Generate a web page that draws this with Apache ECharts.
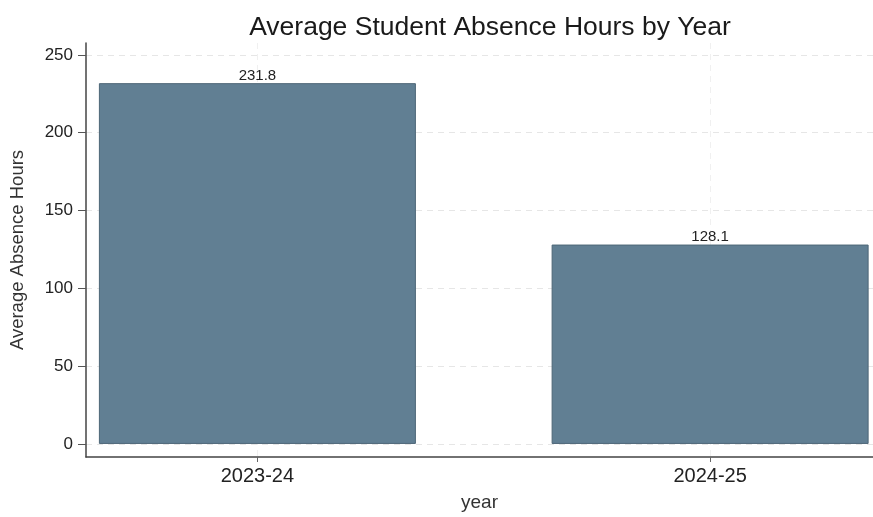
<!DOCTYPE html>
<html>
<head>
<meta charset="utf-8">
<script src="https://cdn.jsdelivr.net/npm/echarts@6/dist/echarts.min.js"></script>
<style>
html,body{margin:0;padding:0;background:#fff;}
#chart{width:873px;height:517px;}
</style>
</head>
<body>
<div id="chart"></div>
<script>
const categories = ["2023-24", "2024-25"];
const absenceHours = [231.8, 128.1];
const yTicks = [0, 50, 100, 150, 200, 250];
const xPositions = [1, 2];

const chart = echarts.init(document.getElementById('chart'), null, {renderer: 'canvas'});
const FONT = '"Liberation Sans", Arial, sans-serif';

const option = {
  backgroundColor: '#ffffff',
  animation: false,
  title: {
    text: 'Average Student Absence Hours by Year',
    left: 485, top: 9, textAlign: 'center',
    textStyle: {fontFamily: FONT, fontSize: 26.5, fontWeight: 'normal', color: '#1a1a1a'}
  },
  grid: {left: 86, right: 0, top: 43, bottom: 60, containLabel: false, outerBoundsMode: 'none'},
  xAxis: {
    type: 'value',
    min: 0.6214, max: 2.3598,
    name: 'year', nameLocation: 'middle', nameGap: 36,
    nameTextStyle: {fontFamily: FONT, fontSize: 19, color: '#333'},
    axisLine: {show: true, onZero: false, lineStyle: {color: '#444', width: 1.5}},
    axisTick: {show: true, length: 5, customValues: xPositions, lineStyle: {color: '#666'}},
    axisLabel: {
      customValues: xPositions, margin: 9,
      fontFamily: FONT, fontSize: 20, color: '#222',
      formatter: v => categories[Math.round(v) - 1] || ''
    },
    splitLine: {show: true, lineStyle: {color: '#f0f0f0', type: [6, 5], width: 1}}
  },
  yAxis: {
    type: 'value',
    min: -8.4, max: 257.6,
    name: 'Average Absence Hours', nameLocation: 'middle', nameGap: 59, nameRotate: 90,
    nameTextStyle: {fontFamily: FONT, fontSize: 18.5, color: '#333'},
    axisLine: {show: true, onZero: false, lineStyle: {color: '#444', width: 1.5}},
    axisTick: {show: true, length: 8, customValues: yTicks, lineStyle: {color: '#555'}},
    axisLabel: {customValues: yTicks, margin: 13, fontFamily: FONT, fontSize: 17, color: '#222'},
    splitLine: {show: true, lineStyle: {color: '#e6e6e6', type: [6, 5], width: 1}}
  },
  series: [{
    type: 'bar',
    data: absenceHours.map((v, i) => [xPositions[i], v]),
    barWidth: 317,
    itemStyle: {color: '#617f93', borderColor: '#4d6677', borderWidth: 1},
    label: {
      show: true, position: 'top', distance: 0,
      fontFamily: FONT, fontSize: 15, color: '#222',
      formatter: p => p.value[1].toFixed(1)
    }
  }]
};
chart.setOption(option);
</script>
</body>
</html>
